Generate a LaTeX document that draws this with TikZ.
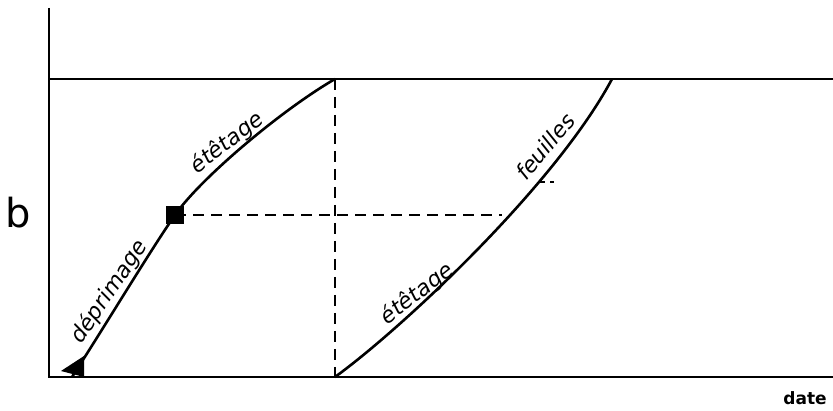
\documentclass[tikz,border=0pt]{standalone}
\usepackage{fontspec}
\setmainfont{DejaVu Sans}
\usetikzlibrary{positioning, calc}
\tikzset{
  axis/.style={line width=2.8pt},
  curve/.style={line width=2.6pt, line join=round},
  guide/.style={line width=2pt, dash pattern=on 11pt off 7pt},
  lbl/.style={font=\fontsize{22}{24}\selectfont\itshape, inner sep=1.5pt, anchor=south},
  marker/.style={fill=black, draw=none}
}

\begin{document}
\begin{tikzpicture}[x=1pt, y=1pt]
\useasboundingbox (0,0) rectangle (833,411);
% axes and ceiling
\coordinate (o) at (49,34);
\coordinate (ytop) at (49,403);
\coordinate (xend) at (833,34);
\coordinate (c0) at (49,332);
\coordinate (c1) at (833,332);
\draw[axis] (ytop) -- (o) -- (xend);
\draw[line width=2.2pt] (c0) -- (c1);
% key points
\coordinate (start) at (72,34);
\coordinate (sq) at (175,196);
\coordinate (peak) at (335,332);
\coordinate (foot) at (335,34);
\coordinate (meet) at (502,196);
\coordinate (leaf) at (612,332);
% guides
\draw[guide] (peak) -- (foot);
\draw[guide] (sq) -- (meet);
\draw[guide, dash pattern=on 7pt off 5pt, line width=1.6pt] (538,229) -- (554,229);
% curves
\draw[curve] (start) .. controls (105,85) and (150,160) .. (sq)
  .. controls (200,232) and (280,300) .. (peak);
\draw[curve] (foot) .. controls (400,81) and (555,225) .. (leaf);
% markers
\fill[marker] (61,40) -- (84,55) -- (84,34) -- cycle;
\node[marker, minimum size=18pt, inner sep=0pt] (sqbox) at (sq) {};
% labels
\node[lbl, rotate=56] (dep) at (120,112) {déprimage};
\node[lbl, rotate=38] (et1) at (235,258) {étêtage};
\node[lbl, rotate=38] (et2) at (425,107) {étêtage};
\node[lbl, rotate=50] (feu) at (553,258) {feuilles};
\node[font=\fontsize{40}{42}\selectfont] (b) at (18,198) {b};
\node[font=\fontsize{17}{19}\selectfont\bfseries] (date) at (805,13) {date};
\end{tikzpicture}
\end{document}
